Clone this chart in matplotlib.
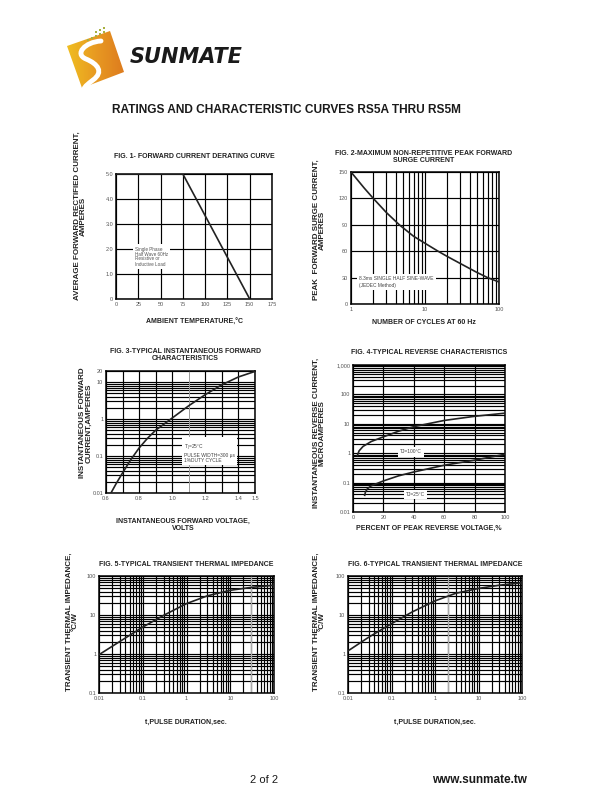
import numpy as np
import matplotlib
matplotlib.use("Agg")
import matplotlib.pyplot as plt
from matplotlib.patches import Polygon, PathPatch
from matplotlib.path import Path
from matplotlib.colors import LinearSegmentedColormap
from matplotlib.ticker import LogLocator, NullFormatter, FixedLocator

plt.rcParams['font.family'] = ['Liberation Sans', 'DejaVu Sans']

# -------------------------------
# data
# -------------------------------
fig1_temp = [0, 75, 150]
fig1_amps = [5.0, 5.0, 0.0]
fig1_xticks = [0, 25, 50, 75, 100, 125, 150, 175]
fig1_yticks = [0, 1.0, 2.0, 3.0, 4.0, 5.0]
fig1_ylabels = ["0", "1.0", "2.0", "3.0", "4.0", "5.0"]

fig2_cycles = [1, 1.5, 2, 3, 4.5, 7, 10, 15, 20, 30, 50, 70, 100]
fig2_amps = [150, 132, 120, 104, 90, 77, 69, 60, 54, 46, 36, 30, 25]
fig2_yticks = [0, 30, 60, 90, 120, 150]

fig3_volts = [0.63, 0.66, 0.7, 0.75, 0.8, 0.85, 0.9, 1.0, 1.1, 1.2, 1.3, 1.4, 1.5]
fig3_amps = [0.01, 0.0175, 0.035, 0.08, 0.165, 0.3, 0.5, 1.07, 2.3, 4.6, 8.5, 13.8, 19.5]
fig3_yticks = [0.01, 0.1, 1, 10, 20]
fig3_ylabels = ["0.01", "0.1", "1", "10", "20"]
fig3_xticks = [0.6, 0.8, 1.0, 1.2, 1.4, 1.5]

fig4_pct_100 = [2.9, 4.0, 6.6, 12, 20, 30, 40, 60, 80, 100]
fig4_ir_100 = [0.85, 1.2, 1.7, 2.5, 3.6, 5.6, 8.0, 13.0, 18.0, 23.0]
fig4_pct_25 = [7.7, 8.2, 9.5, 12, 20, 30, 40, 60, 80, 100]
fig4_ir_25 = [0.037, 0.048, 0.062, 0.078, 0.114, 0.17, 0.23, 0.39, 0.58, 0.92]
fig4_yticks = [0.01, 0.1, 1, 10, 100, 1000]
fig4_ylabels = ["0.01", "0.1", "1", "10", "100", "1,000"]

pulse_t = [0.01, 0.03, 0.1, 0.3, 1, 3, 10, 30, 100]
fig5_z = [0.96, 2.1, 4.9, 9.8, 19.6, 31, 43, 51, 58]
fig6_z = [1.2, 2.7, 6.0, 12.0, 23, 36, 48, 58, 67]
pulse_ticks = [0.01, 0.1, 1, 10, 100]
pulse_labels = ["0.01", "0.1", "1", "10", "100"]
z_ticks = [0.1, 1, 10, 100]
z_labels = ["0.1", "1", "10", "100"]

W, H = 610, 810
fig = plt.figure(figsize=(W / 100, H / 100), dpi=100)
fig.patch.set_facecolor("white")

# background axes in pixel coordinates for text and logo
bg = fig.add_axes([0, 0, 1, 1], zorder=0)
bg.set_xlim(0, W)
bg.set_ylim(H, 0)
bg.axis("off")


def px_axes(l, t, r, b):
    ax = fig.add_axes([l / W, 1 - b / H, (r - l) / W, (b - t) / H], zorder=2)
    for s in ax.spines.values():
        s.set_linewidth(1.1)
        s.set_color("black")
    ax.tick_params(which="both", length=0, labelsize=4, colors="#555555", pad=2)
    return ax


GRID = dict(color="black", linewidth=0.85)
TITLE = dict(fontsize=5, fontweight="bold", ha="center", va="center", color="#222222")
YLAB = dict(fontsize=5.8, fontweight="bold", ha="center", va="center", rotation=90,
            color="#222222", multialignment="center", linespacing=0.85)
XLAB = dict(fontsize=5, fontweight="bold", ha="center", va="center", color="#222222",
            multialignment="center", linespacing=1.1)
NOTE = dict(fontsize=3.5, color="#444444", ha="left", va="center",
            bbox=dict(facecolor="white", edgecolor="none", pad=1.5), zorder=4)


def log_grid(ax, axis):
    a = ax.xaxis if axis == "x" else ax.yaxis
    a.set_minor_locator(LogLocator(base=10, subs=np.arange(2, 10)))
    a.set_minor_formatter(NullFormatter())
    a.grid(True, which="both", **GRID)


# -------------------------------
# logo
# -------------------------------
sq = [(67, 46), (110, 31), (124, 72), (82, 88)]
grad = np.linspace(0, 1, 100).reshape(1, -1)
cmap = LinearSegmentedColormap.from_list("logo", ["#F0C020", "#E89A22", "#DD7A1E"])
im = bg.imshow(grad, extent=[65, 126, 90, 29], cmap=cmap, aspect="auto", zorder=1)
poly = Polygon(sq, closed=True, transform=bg.transData, facecolor="none", edgecolor="none")
bg.add_patch(poly)
im.set_clip_path(poly)
s_path = Path([(101, 41), (85, 42), (74, 54), (86, 59), (98, 64), (104, 72), (93, 80), (88, 84), (85, 86), (84, 89)],
              [Path.MOVETO, Path.CURVE4, Path.CURVE4, Path.CURVE4, Path.CURVE4, Path.CURVE4, Path.CURVE4,
               Path.CURVE4, Path.CURVE4, Path.CURVE4])
bg.add_patch(PathPatch(s_path, facecolor="none", edgecolor="white", linewidth=3.5, zorder=2, capstyle="round"))
for dx, dy in [(91, 37), (95, 35), (99, 33), (95, 31), (99, 29), (103, 31), (103, 27), (87, 39)]:
    bg.add_patch(Polygon([(dx, dy), (dx + 2, dy), (dx + 2, dy + 2), (dx, dy + 2)], facecolor="#A8B040",
                         edgecolor="none", zorder=3))
bg.text(130, 57, "SUNMATE", fontsize=15, fontweight="heavy", style="italic", family="DejaVu Sans",
        color="#1a1a1a", ha="left", va="center")
bg.set_xlim(0, W)
bg.set_ylim(H, 0)

bg.text(286, 110, "RATINGS AND CHARACTERISTIC CURVES RS5A THRU RS5M", fontsize=8.6, fontweight="bold",
        ha="center", va="center", color="#1a1a1a")
bg.text(264, 780, "2 of 2", fontsize=8, ha="center", va="center", color="#1a1a1a")
bg.text(479, 780, "www.sunmate.tw", fontsize=8.5, fontweight="bold", ha="center", va="center", color="#1a1a1a")

# -------------------------------
# Fig 1
# -------------------------------
ax1 = px_axes(116, 174, 272, 299)
ax1.plot(fig1_temp, fig1_amps, color="#222222", lw=1.2, zorder=3)
ax1.set_xlim(0, 175)
ax1.set_ylim(0, 5.0)
ax1.set_xticks(fig1_xticks)
ax1.set_yticks(fig1_yticks)
ax1.set_yticklabels(fig1_ylabels)
ax1.grid(True, **GRID)
ax1.text(21, 2.1, "Single Phase\nHalf Wave 60Hz\nResistive or\nInductive Load", fontsize=3.3, color="#555555",
         va="top", ha="left", linespacing=1.0,
         bbox=dict(facecolor="white", edgecolor="none", pad=1.5), zorder=4)
bg.text(194, 157, "FIG. 1- FORWARD CURRENT DERATING CURVE", **TITLE)
bg.text(80, 216, "AVERAGE FORWARD RECTIFIED CURRENT,\nAMPERES", **YLAB)
bg.text(194, 322, "AMBIENT TEMPERATURE,\u00b0C", **XLAB)

# -------------------------------
# Fig 2
# -------------------------------
ax2 = px_axes(351, 172, 499, 304)
ax2.plot(fig2_cycles, fig2_amps, color="#222222", lw=1.2, zorder=3)
ax2.set_xscale("log")
ax2.set_xlim(1, 100)
ax2.set_ylim(0, 150)
ax2.set_yticks(fig2_yticks)
ax2.xaxis.set_major_locator(FixedLocator([1, 10, 100]))
ax2.set_xticklabels(["1", "10", "100"])
log_grid(ax2, "x")
ax2.yaxis.grid(True, **GRID)
ax2.text(1.3, 25, "8.3ms SINGLE HALF SINE-WAVE\n(JEDEC Method)", linespacing=1.4, **NOTE)
bg.text(424, 157, "FIG. 2-MAXIMUM NON-REPETITIVE PEAK FORWARD\nSURGE CURRENT", linespacing=0.95, **TITLE)
bg.text(319, 230, "PEAK  FORWARD SURGE CURRENT,\nAMPERES", **YLAB)
bg.text(424, 323, "NUMBER OF CYCLES AT 60 Hz", **XLAB)

# -------------------------------
# Fig 3
# -------------------------------
ax3 = px_axes(106, 371, 255, 493)
ax3.plot(fig3_volts, fig3_amps, color="#222222", lw=1.2, zorder=3)
ax3.set_yscale("log")
ax3.set_xlim(0.6, 1.5)
ax3.set_ylim(0.01, 20)
ax3.yaxis.set_major_locator(FixedLocator(fig3_yticks))
ax3.set_yticklabels(fig3_ylabels)
log_grid(ax3, "y")
ax3.xaxis.set_major_locator(FixedLocator(fig3_xticks))
ax3.set_xticklabels(["0.6", "0.8", "1.0", "1.2", "1.4", "1.5"])
ax3.xaxis.set_minor_locator(FixedLocator([0.7, 0.9, 1.3]))
ax3.xaxis.grid(True, which="both", **GRID)
ax3.axvline(1.1, color="#999999", lw=0.7)
ax3.text(1.07, 0.125, "T$_{\\mathrm{J}}$=25\u00b0C\nPULSE WIDTH=300 \u03bcs\n1%DUTY CYCLE",
         linespacing=1.0, **NOTE)
bg.text(185, 355, "FIG. 3-TYPICAL INSTANTANEOUS FORWARD\nCHARACTERISTICS", linespacing=0.95, **TITLE)
bg.text(86, 423, "INSTANTANEOUS FORWARD\nCURRENT,AMPERES", **YLAB)
bg.text(183, 525, "INSTANTANEOUS FORWARD VOLTAGE,\nVOLTS", **XLAB)

# -------------------------------
# Fig 4
# -------------------------------
ax4 = px_axes(353, 365, 505, 512)
ax4.plot(fig4_pct_100, fig4_ir_100, color="#222222", lw=1.2, zorder=3)
ax4.plot(fig4_pct_25, fig4_ir_25, color="#222222", lw=1.2, zorder=3)
ax4.set_yscale("log")
ax4.set_xlim(0, 100)
ax4.set_ylim(0.01, 1000)
ax4.yaxis.set_major_locator(FixedLocator(fig4_yticks))
ax4.set_yticklabels(fig4_ylabels)
log_grid(ax4, "y")
ax4.set_xticks([0, 20, 40, 60, 80, 100])
ax4.xaxis.grid(True, **GRID)
ax4.text(31, 1.1, "TJ=100\u00b0C", **NOTE)
ax4.text(35, 0.04, "TJ=25\u00b0C", **NOTE)
bg.text(429, 353, "FIG. 4-TYPICAL REVERSE CHARACTERISTICS", **TITLE)
bg.text(319, 433, "INSTANTANEOUS REVERSE CURRENT,\nMICROAMPERES", **YLAB)
bg.text(429, 528, "PERCENT OF PEAK REVERSE VOLTAGE,%", **XLAB)

# -------------------------------
# Fig 5 / Fig 6
# -------------------------------
for (l, r, z, gray_x, num, cx, ylx) in [(99, 274, fig5_z, 30, 5, 186, 72), (348, 522, fig6_z, 2, 6, 435, 319)]:
    ax = px_axes(l, 576, r, 693)
    ax.plot(pulse_t, z, color="#222222", lw=1.2, zorder=3)
    ax.set_xscale("log")
    ax.set_yscale("log")
    ax.set_xlim(0.01, 100)
    ax.set_ylim(0.1, 100)
    ax.xaxis.set_major_locator(FixedLocator(pulse_ticks))
    ax.set_xticklabels(pulse_labels)
    ax.yaxis.set_major_locator(FixedLocator(z_ticks))
    ax.set_yticklabels(z_labels)
    log_grid(ax, "x")
    log_grid(ax, "y")
    ax.axvline(gray_x, color="#aaaaaa", lw=0.9, zorder=2.5)
    bg.text(cx, 565, "FIG. %d-TYPICAL TRANSIENT THERMAL IMPEDANCE" % num, **TITLE)
    bg.text(ylx, 622, "TRANSIENT THERMAL IMPEDANCE,\n\u00b0C/W", **YLAB)
    bg.text(cx, 722, "t,PULSE DURATION,sec.", **XLAB)

fig.savefig("out.png", dpi=100)
